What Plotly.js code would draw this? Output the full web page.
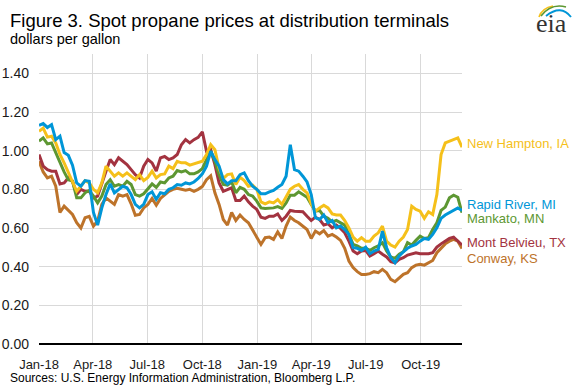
<!DOCTYPE html>
<html>
<head>
<meta charset="utf-8">
<script src="https://cdn.plot.ly/plotly-3.0.1.min.js"></script>
<style>html,body{margin:0;padding:0;background:#fff;}#chart{width:577px;height:385px;}</style>
</head>
<body>
<div id="chart"></div>
<script>
// Weekly observation dates
var dates = [
"2018-01-01","2018-01-08","2018-01-15","2018-01-22","2018-01-29","2018-02-05","2018-02-12","2018-02-19","2018-02-26",
"2018-03-05","2018-03-12","2018-03-19","2018-03-26","2018-04-02","2018-04-09","2018-04-16","2018-04-23","2018-04-30",
"2018-05-07","2018-05-14","2018-05-21","2018-05-28","2018-06-04","2018-06-11","2018-06-18","2018-06-25","2018-07-02",
"2018-07-09","2018-07-16","2018-07-23","2018-07-30","2018-08-06","2018-08-13","2018-08-20","2018-08-27","2018-09-03",
"2018-09-10","2018-09-17","2018-09-24","2018-10-01","2018-10-08","2018-10-15","2018-10-22","2018-10-29","2018-11-05",
"2018-11-12","2018-11-19","2018-11-26","2018-12-03","2018-12-10","2018-12-17","2018-12-24","2018-12-31","2019-01-07",
"2019-01-14","2019-01-21","2019-01-28","2019-02-04","2019-02-11","2019-02-18","2019-02-25","2019-03-04","2019-03-11",
"2019-03-18","2019-03-25","2019-04-01","2019-04-08","2019-04-15","2019-04-22","2019-04-29","2019-05-06","2019-05-13",
"2019-05-20","2019-05-27","2019-06-03","2019-06-10","2019-06-17","2019-06-24","2019-07-01","2019-07-08","2019-07-15",
"2019-07-22","2019-07-29","2019-08-05","2019-08-12","2019-08-19","2019-08-26","2019-09-02","2019-09-09","2019-09-16",
"2019-09-23","2019-09-30","2019-10-07","2019-10-14","2019-10-21","2019-10-28","2019-11-04","2019-11-11","2019-11-18",
"2019-11-25","2019-12-02","2019-12-09"];

var conway = [
0.945,0.89,0.859,0.868,0.816,0.68,0.713,0.69,0.67,0.627,0.60,0.653,0.66,0.61,0.636,0.722,0.756,0.739,0.722,0.773,0.765,
0.773,0.725,0.666,0.67,0.704,0.722,0.753,0.718,0.753,0.77,0.79,0.80,0.805,0.80,0.795,0.80,0.79,0.80,0.815,0.85,0.87,
0.782,0.722,0.644,0.615,0.68,0.639,0.667,0.644,0.627,0.592,0.55,0.515,0.55,0.553,0.541,0.58,0.546,0.61,0.656,0.639,0.627,
0.61,0.592,0.546,0.584,0.57,0.587,0.558,0.567,0.553,0.536,0.495,0.429,0.395,0.374,0.36,0.36,0.364,0.374,0.369,0.386,
0.369,0.334,0.322,0.343,0.36,0.369,0.395,0.408,0.412,0.408,0.42,0.432,0.472,0.498,0.518,0.532,0.541,0.532,0.494];

var montBelvieu = [
0.98,0.92,0.902,0.894,0.894,0.828,0.833,0.859,0.842,0.773,0.80,0.79,0.79,0.756,0.765,0.833,0.894,0.954,0.928,0.963,0.945,
0.928,0.902,0.876,0.859,0.92,0.954,0.937,0.894,0.963,0.97,0.954,0.963,0.98,1.031,1.057,1.04,1.057,1.069,1.097,0.997,1.005,
0.928,0.833,0.79,0.80,0.808,0.742,0.742,0.765,0.735,0.713,0.696,0.656,0.65,0.661,0.661,0.673,0.639,0.661,0.691,0.687,0.684,
0.684,0.661,0.639,0.656,0.644,0.615,0.622,0.601,0.615,0.598,0.575,0.532,0.481,0.467,0.481,0.484,0.455,0.467,0.481,0.464,
0.45,0.426,0.42,0.438,0.446,0.46,0.464,0.472,0.467,0.467,0.467,0.472,0.501,0.518,0.532,0.546,0.553,0.532,0.512];

var mankato = [
1.049,1.066,1.035,1.04,0.99,0.937,0.89,0.85,0.842,0.756,0.756,0.782,0.794,0.765,0.73,0.765,0.825,0.85,0.816,0.825,0.816,
0.842,0.825,0.773,0.765,0.777,0.804,0.828,0.81,0.838,0.833,0.859,0.868,0.897,0.89,0.897,0.88,0.88,0.89,0.907,0.954,0.997,
0.945,0.876,0.825,0.821,0.838,0.782,0.81,0.80,0.773,0.765,0.739,0.704,0.701,0.701,0.704,0.711,0.701,0.73,0.77,0.77,0.787,
0.773,0.759,0.722,0.687,0.691,0.661,0.65,0.632,0.639,0.627,0.615,0.567,0.515,0.507,0.495,0.495,0.484,0.498,0.507,0.524,
0.481,0.45,0.443,0.464,0.477,0.524,0.512,0.536,0.558,0.546,0.55,0.592,0.627,0.691,0.708,0.756,0.77,0.759,0.679];

var newHampton = [
1.10,1.117,1.07,1.075,1.04,0.98,0.937,0.885,0.842,0.79,0.816,0.845,0.833,0.80,0.782,0.833,0.92,0.894,0.868,0.885,0.868,
0.885,0.868,0.85,0.876,0.845,0.862,0.894,0.859,0.876,0.88,0.92,0.907,0.945,0.937,0.937,0.925,0.932,0.937,0.945,0.98,1.031,
1.005,0.907,0.856,0.876,0.88,0.825,0.862,0.845,0.816,0.821,0.80,0.735,0.725,0.735,0.73,0.747,0.722,0.765,0.80,0.816,0.825,
0.80,0.782,0.725,0.687,0.704,0.718,0.704,0.673,0.667,0.667,0.639,0.601,0.553,0.532,0.55,0.532,0.532,0.558,0.575,0.61,
0.532,0.512,0.501,0.532,0.553,0.592,0.713,0.696,0.687,0.65,0.684,0.67,0.773,0.98,1.04,1.049,1.057,1.066,1.018];

var rapidRiver = [
1.131,1.14,1.12,1.135,1.057,1.075,0.99,0.976,0.925,0.833,0.816,0.845,0.842,0.68,0.615,0.704,0.773,0.828,0.782,0.80,0.816,
0.808,0.773,0.722,0.704,0.722,0.773,0.787,0.748,0.782,0.777,0.80,0.808,0.825,0.821,0.833,0.828,0.838,0.856,0.88,0.92,0.997,
0.954,0.92,0.85,0.828,0.845,0.845,0.876,0.885,0.845,0.816,0.80,0.777,0.777,0.787,0.794,0.811,0.825,0.868,1.031,0.902,0.894,
0.868,0.838,0.773,0.653,0.644,0.667,0.627,0.639,0.601,0.61,0.592,0.567,0.498,0.495,0.484,0.501,0.467,0.481,0.489,0.584,
0.498,0.446,0.42,0.455,0.477,0.495,0.507,0.515,0.532,0.546,0.541,0.567,0.601,0.65,0.667,0.679,0.691,0.704,0.691];

var seriesNames = ["Conway, KS","Mont Belvieu, TX","Mankato, MN","New Hampton, IA","Rapid River, MI"];
var seriesValues = [conway, montBelvieu, mankato, newHampton, rapidRiver];
var seriesColors = ["#BD732A","#A33340","#5D9732","#F5C01A","#0096D7"];
// label vertical placement (value units)
var labelY = [0.444, 0.525, 0.647, 1.035, 0.72];

var yTickVals = [0, 0.2, 0.4, 0.6, 0.8, 1.0, 1.2, 1.4];

var traces = seriesNames.map(function(n, i){
  return {x: dates, y: seriesValues[i], type: 'scatter', mode: 'lines', name: n,
          line: {color: seriesColors[i], width: 3}, hoverinfo: 'skip'};
});

var annotations = seriesNames.map(function(n, i){
  return {text: n, xref: 'paper', yref: 'y', x: 1.006, y: labelY[i], xanchor: 'left', yanchor: 'middle',
          showarrow: false, font: {family: 'Liberation Sans, Arial, sans-serif', size: 13, color: seriesColors[i]}};
});
annotations.push({text: 'dollars per gallon', xref: 'paper', yref: 'paper', x: -0.0735, y: 1.052,
  xanchor: 'left', yanchor: 'middle', showarrow: false,
  font: {family: 'Liberation Sans, Arial, sans-serif', size: 14.5, color: '#000'}});
annotations.push({text: 'Sources: U.S. Energy Information Administration, Bloomberg L.P.', xref: 'paper', yref: 'paper',
  x: -0.0735, y: -0.117, xanchor: 'left', yanchor: 'middle', showarrow: false,
  font: {family: 'Liberation Sans, Arial, sans-serif', size: 12, color: '#000'}});
annotations.push({text: 'eia', xref: 'paper', yref: 'paper', x: 1.2106, y: 1.105, xanchor: 'center', yanchor: 'middle',
  showarrow: false, font: {family: 'Liberation Serif, Times New Roman, serif', size: 26, color: '#333333'}});

var logoSvg = "<svg xmlns='http://www.w3.org/2000/svg' viewBox='530 0 47 24' width='47' height='24'>" +
  "<path d='M539 17 Q542 8 553 6' stroke='%23F5C01A' stroke-width='1.6' fill='none'/>" +
  "<path d='M541 16 Q551 3 566 7' stroke='%235D9732' stroke-width='1.6' fill='none'/>" +
  "<path d='M546 16 Q561 4 571 17' stroke='%230096D7' stroke-width='1.9' fill='none'/></svg>";

var layout = {
  width: 577, height: 385, autosize: false,
  paper_bgcolor: '#fff', plot_bgcolor: '#fff',
  margin: {l: 39, r: 115, t: 54, b: 41, pad: 0},
  showlegend: false,
  title: {text: 'Figure 3. Spot propane prices at distribution terminals', xref: 'container', yref: 'container',
          x: 10/577, xanchor: 'left', y: 0.947, yanchor: 'middle',
          font: {family: 'Liberation Sans, Arial, sans-serif', size: 18.5, color: '#000'}},
  xaxis: {type: 'date', range: ['2018-01-01', '2019-12-09'], tick0: '2018-01-01', dtick: 'M3', tickformat: '%b-%y',
          showgrid: true, gridcolor: '#d9d9d9', gridwidth: 1, zeroline: false, showline: false,
          ticks: '', ticklabelstandoff: 11,
          tickfont: {family: 'Liberation Sans, Arial, sans-serif', size: 13, color: '#1a1a1a'}},
  yaxis: {range: [0, 1.5], tickvals: yTickVals, tickformat: '.2f', showgrid: true, gridcolor: '#d9d9d9', gridwidth: 1,
          zeroline: true, zerolinecolor: '#000', zerolinewidth: 1.5, showline: false, ticks: '',
          ticklabelstandoff: 9,
          tickfont: {family: 'Liberation Sans, Arial, sans-serif', size: 14, color: '#1a1a1a'}},
  annotations: annotations,
  images: [{source: 'data:image/svg+xml;utf8,' + logoSvg, xref: 'paper', yref: 'paper',
            x: (530-39)/423, y: 344/290, sizex: 47/423, sizey: 24/290, xanchor: 'left', yanchor: 'top',
            sizing: 'stretch', layer: 'above'}]
};

Plotly.newPlot('chart', traces, layout, {staticPlot: true, displayModeBar: false});
</script>
</body>
</html>
